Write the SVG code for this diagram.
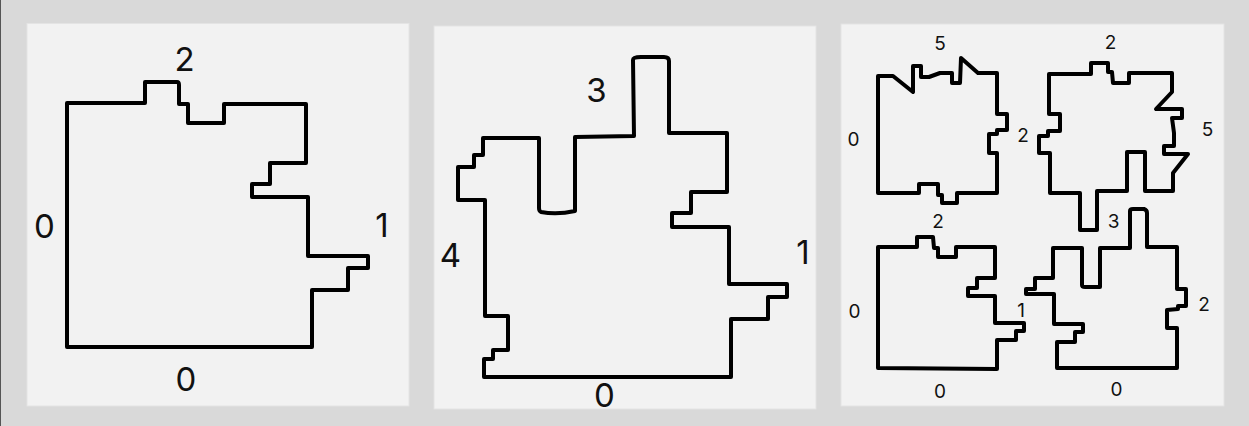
<svg xmlns="http://www.w3.org/2000/svg" width="1249" height="426" viewBox="0 0 1249 426">
<style>
.bg{fill:#d9d9d9}
.panel{fill:#f2f2f2;stroke:#e4e4e4;stroke-width:1}
.shape{fill:none;stroke:#000;stroke-width:4;stroke-linejoin:round;stroke-linecap:round}
.lg{font-family:Inter,"Liberation Sans",sans-serif;font-size:33px;fill:#111;text-anchor:middle}
.sm{font-family:Inter,"Liberation Sans",sans-serif;font-size:19px;fill:#111;text-anchor:middle}
</style>
<rect class="bg" x="0" y="0" width="1249" height="426"/>
<rect x="0" y="0" width="1" height="426" fill="#555"/>

<g id="panel1">
<rect class="panel" x="27" y="23.5" width="382" height="382.5"/>
<path class="shape" d="M67,103 H145 V82 H177 Q179,82 179,85 V104 H188 V123 H224 V104 H306 V163 H270 V184 H252 V197 H308 V256 H368 V268 H348 V290 H312 V347 H67 Z"/>
<text class="lg" x="184.5" y="71">2</text>
<text class="lg" x="44.5" y="238">0</text>
<text class="lg" x="382" y="237">1</text>
<text class="lg" x="186" y="391">0</text>
</g>

<g id="panel2">
<rect class="panel" x="434" y="26" width="382" height="383"/>
<path class="shape" d="M484,377 H731 V319 H768 V297 H787 V284 H729 V227 H672 V213 H691 V192 H727 V133 H669 V61 Q669,57 664,57 H641 Q633,57 633,60 L634,136 L575,137 V211 Q557,215 541,212 Q539,211 539,208 V138 H483 V155 H474 V167 H458 V200 H485 V316 H508 V350 H493 V359 H484 Z"/>
<text class="lg" x="596.5" y="102">3</text>
<text class="lg" x="450.5" y="267">4</text>
<text class="lg" x="803" y="264">1</text>
<text class="lg" x="604.5" y="407">0</text>
</g>

<g id="panel3">
<rect class="panel" x="841" y="24" width="383" height="382"/>
<g id="shape-tl">
<path class="shape" d="M878,76 H893 L913,92 V66 H921 V77 H929 L940,73 H952 V83 H960 L961,58 L978,73 H997 V114 H1007 V130 H997 V134 H989 V153 H997 V193 H957 V203 H942 V195 H938 V184 H919 V193 H878 Z"/>
</g>
<g id="shape-tr">
<path class="shape" d="M1049,74 H1091 V63 H1108 V72 H1112 L1113,83 H1129 V73 H1172 V92 L1156,109 H1182 V118 H1172 L1174,133 L1174,146 H1164 V154 H1188 L1173,173 V191 H1145 V152 H1127 V191 H1097 L1097,230 H1080 V193 H1050 V153 H1039 V136 H1048 V131 H1060 V114 H1049 Z"/>
</g>
<g id="shape-bl">
<path class="shape" d="M878,247 H917 V237 H933 L934,248 H938 V257 H956 V247 H995 V278 H977 V288 H968 V296 H995 V323 H1024 V331 H1016 V340 H997 V369 L878,368 Z"/>
</g>
<g id="shape-br">
<path class="shape" d="M1053,248 H1082 V285 Q1082,287 1085,287 H1100 V248 H1130 V211 Q1130,209 1133,209 H1144 Q1147,210 1147,213 V247 H1177 V289 H1186 V306 H1178 V309 L1167,310 V328 H1177 V368 H1057 V342 H1075 V332 H1083 V324 H1054 V294 H1026 V289 H1035 V278 H1053 Z"/>
</g>
<text class="sm" x="940" y="50">5</text>
<text class="sm" x="853.5" y="146">0</text>
<text class="sm" x="1023" y="142">2</text>
<text class="sm" x="1110.5" y="49">2</text>
<text class="sm" x="1207.5" y="136">5</text>
<text class="sm" x="1113.5" y="228">3</text>
<text class="sm" x="938" y="228">2</text>
<text class="sm" x="854.5" y="318">0</text>
<text class="sm" x="1021" y="317">1</text>
<text class="sm" x="940" y="398">0</text>
<text class="sm" x="1204" y="311">2</text>
<text class="sm" x="1116.5" y="396">0</text>
</g>
</svg>
